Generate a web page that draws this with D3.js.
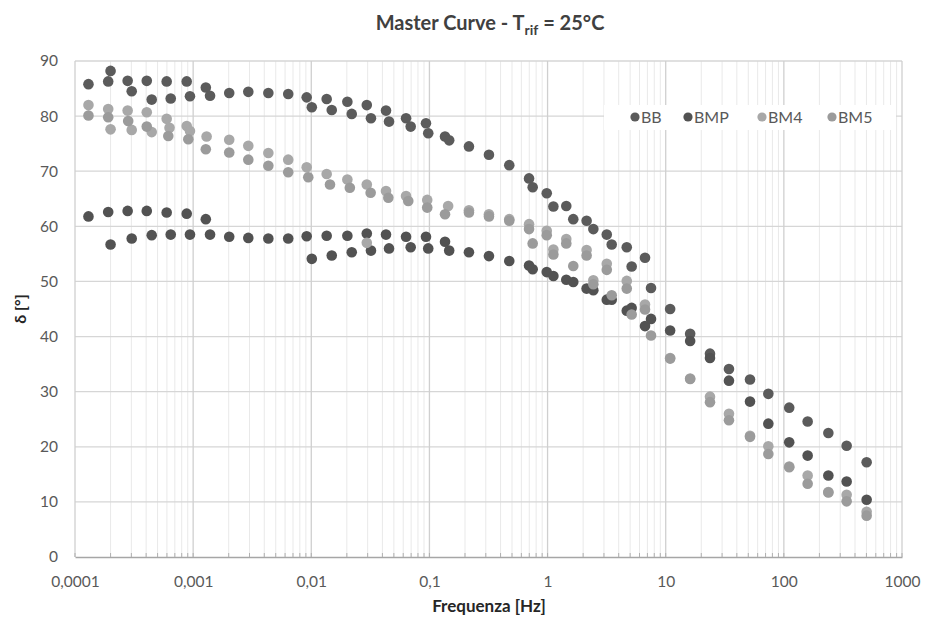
<!DOCTYPE html>
<html>
<head>
<meta charset="utf-8">
<script src="https://cdn.jsdelivr.net/npm/d3@7"></script>
<style>
  body { margin: 0; background: #fff; }
  text { font-family: Lato, "Open Sans", sans-serif; }
</style>
</head>
<body>
<svg id="chart" width="925" height="625"></svg>
<script>
// valori: [frequenza Hz, delta °]
const seriesNames = ["BB", "BMP", "BM4", "BM5"];
const seriesColors = ["#5b5b5b", "#525252", "#a8a8a8", "#9b9b9b"];

const BB = [
  [1.30e-4,85.8],[1.91e-4,86.3],[2.79e-4,86.4],[4.05e-4,86.4],[5.97e-4,86.3],[8.82e-4,86.3],[1.28e-3,85.2],
  [2.00e-4,88.2],[3.02e-4,84.5],[4.46e-4,83.0],[6.46e-4,83.2],[9.40e-4,83.6],[1.39e-3,83.7],[2.02e-3,84.2],
  [2.93e-3,84.4],[4.33e-3,84.2],[6.38e-3,84.0],[9.14e-3,83.4],[1.35e-2,83.1],[2.02e-2,82.6],[2.95e-2,82.0],
  [4.29e-2,81.0],[6.34e-2,79.6],[9.35e-2,78.7],[0.1355,76.3],
  [1.01e-2,81.6],[1.49e-2,81.1],[2.20e-2,80.4],[3.20e-2,79.6],[4.55e-2,79.0],[6.94e-2,78.1],[9.77e-2,76.9],
  [0.147,75.6],[0.216,74.5],[0.319,73.0],[0.474,71.1],[0.697,68.7],[0.748,67.1],[0.984,66.0],[1.12,63.6],
  [1.44,63.7],[1.65,61.3],[2.14,61.0],[2.44,59.5],[3.17,58.5],[3.49,56.7],[4.68,56.2],[5.15,52.7],[6.68,54.3],
  [7.51,48.8],[10.9,45.0],[16.1,40.5],[23.7,36.9],[34.3,34.1],[51.7,32.2],[73.9,29.6],[111,27.1],[159,24.6],
  [238,22.5],[340,20.2],[502,17.2]
];
const BMP = [
  [1.30e-4,61.8],[1.91e-4,62.6],[2.79e-4,62.8],[4.05e-4,62.8],[5.97e-4,62.5],[8.82e-4,62.3],[1.28e-3,61.3],
  [2.00e-4,56.7],[3.02e-4,57.8],[4.46e-4,58.4],[6.46e-4,58.5],[9.40e-4,58.5],[1.39e-3,58.5],[2.02e-3,58.1],
  [2.93e-3,57.9],[4.33e-3,57.8],[6.38e-3,57.8],[9.14e-3,58.2],[1.35e-2,58.3],[2.02e-2,58.3],[2.95e-2,58.7],
  [4.29e-2,58.5],[6.34e-2,58.1],[9.35e-2,58.1],[0.1355,57.2],
  [1.01e-2,54.1],[1.49e-2,54.7],[2.20e-2,55.3],[3.20e-2,55.6],[4.55e-2,56.0],[6.94e-2,56.2],[9.77e-2,56.0],
  [0.147,55.6],[0.216,55.3],[0.319,54.6],[0.474,53.7],[0.697,52.9],[0.748,52.2],[0.984,51.7],[1.12,51.0],
  [1.44,50.3],[1.65,49.9],[2.14,48.7],[2.44,48.4],[3.17,46.7],[3.49,46.7],[4.68,44.7],[5.15,45.2],[6.68,41.9],
  [7.51,43.2],[10.9,41.1],[16.1,39.2],[23.7,36.1],[34.3,32.0],[51.7,28.2],[73.9,24.2],[111,20.8],[159,18.4],
  [238,14.8],[340,13.7],[502,10.4]
];
const BM4 = [
  [1.30e-4,82.0],[1.91e-4,81.3],[2.79e-4,81.0],[4.05e-4,80.7],[5.97e-4,79.5],[8.82e-4,78.2],[1.30e-3,76.3],
  [2.00e-4,77.6],[3.02e-4,77.5],[4.46e-4,77.1],[6.31e-4,77.9],[9.40e-4,77.3],
  [2.02e-3,75.7],[2.93e-3,74.6],[4.33e-3,73.3],[6.38e-3,72.1],[9.14e-3,70.7],[1.35e-2,69.5],[2.02e-2,68.5],
  [2.95e-2,67.6],[2.95e-2,57.0],[4.29e-2,66.4],[6.34e-2,65.5],[9.58e-2,64.8],[0.144,63.7],[0.216,62.9],
  [0.319,62.2],[0.474,61.3],[0.697,60.4],[0.984,59.2],[1.12,55.8],[1.44,57.7],[2.14,55.7],[2.44,50.2],
  [3.17,53.2],[4.68,50.1],[6.68,45.8],[10.9,36.1],[16.1,32.4],[23.7,29.1],[34.3,26.0],[51.7,22.0],[73.9,20.1],
  [111,16.4],[159,14.8],[238,11.8],[340,11.3],[502,8.2]
];
const BM5 = [
  [1.30e-4,80.1],[1.91e-4,79.8],[2.82e-4,79.1],[4.05e-4,78.1],[6.16e-4,76.4],[9.10e-4,75.8],[1.28e-3,74.0],
  [2.02e-3,73.4],[2.93e-3,72.1],[4.33e-3,71.0],[6.38e-3,69.8],[9.43e-3,68.9],[1.44e-2,67.6],[2.12e-2,67.0],
  [3.18e-2,66.1],[4.49e-2,65.2],[6.62e-2,64.6],[9.58e-2,63.4],[0.1355,62.2],[0.216,62.5],[0.319,61.8],
  [0.474,61.0],[0.697,59.5],[0.748,56.9],[0.984,58.4],[1.12,54.9],[1.44,56.9],[1.65,52.8],[2.14,54.7],
  [2.44,49.5],[3.17,52.1],[3.49,47.5],[4.68,48.7],[5.15,44.0],[6.68,44.9],[7.51,40.2],[10.9,36.0],[16.1,32.3],
  [23.7,28.1],[34.3,24.8],[51.7,21.8],[73.9,18.7],[111,16.3],[159,13.3],[238,11.7],[340,10.1],[502,7.5]
];
const allSeries = [BB, BMP, BM4, BM5];

const xTicks = [1e-4, 1e-3, 1e-2, 1e-1, 1, 10, 100, 1000];
const xTickLabels = ["0,0001", "0,001", "0,01", "0,1", "1", "10", "100", "1000"];
const yTicks = [0, 10, 20, 30, 40, 50, 60, 70, 80, 90];

const svg = d3.select("#chart");
const plotL = 75, plotR = 902, plotT = 61, plotB = 557;

const x = d3.scaleLog().domain([1e-4, 1000]).range([plotL, plotR]);
const y = d3.scaleLinear().domain([0, 90]).range([plotB, plotT]);

// griglia minore (2..9 di ogni decade)
const minor = [];
for (let e = -4; e < 3; e++) {
  for (let m = 2; m < 10; m++) minor.push(m * Math.pow(10, e));
}
svg.append("g").selectAll("line").data(minor).join("line")
  .attr("x1", d => x(d)).attr("x2", d => x(d))
  .attr("y1", plotT).attr("y2", plotB)
  .attr("stroke", "#e9e9e9").attr("stroke-width", 1);

// griglia orizzontale
svg.append("g").selectAll("line").data(yTicks.slice(1)).join("line")
  .attr("x1", plotL).attr("x2", plotR)
  .attr("y1", d => y(d)).attr("y2", d => y(d))
  .attr("stroke", "#d6d6d6").attr("stroke-width", 1.3);

// griglia maggiore verticale
svg.append("g").selectAll("line").data(xTicks).join("line")
  .attr("x1", d => x(d)).attr("x2", d => x(d))
  .attr("y1", plotT).attr("y2", plotB)
  .attr("stroke", "#cfcfcf").attr("stroke-width", 1.3);

// asse x con tacche minori
const xAxis = d3.axisBottom(x).tickValues(xTicks).tickSize(0).tickFormat((d, i) => xTickLabels[i]).tickPadding(19);
const gx = svg.append("g").attr("transform", `translate(0,${plotB})`).call(xAxis);
gx.select(".domain").attr("stroke", "#a6a6a6").attr("stroke-width", 1.3);
gx.selectAll("text").attr("fill", "#595959").style("font-size", "15.5px");
svg.append("g").selectAll("line").data(minor.concat(xTicks)).join("line")
  .attr("x1", d => x(d)).attr("x2", d => x(d))
  .attr("y1", plotB - 4).attr("y2", plotB)
  .attr("stroke", "#b0b0b0").attr("stroke-width", 1);

const yAxis = d3.axisLeft(y).tickValues(yTicks).tickSize(0).tickPadding(17);
const gy = svg.append("g").attr("transform", `translate(${plotL},0)`).call(yAxis);
gy.select(".domain").remove();
gy.selectAll("text").attr("fill", "#595959").style("font-size", "15.5px");

// punti
allSeries.forEach((s, i) => {
  svg.append("g").selectAll("circle").data(s).join("circle")
    .attr("cx", d => x(d[0]))
    .attr("cy", d => y(d[1]))
    .attr("r", 5.3)
    .attr("fill", seriesColors[i]);
});

// legenda
const legendX = [635, 688, 762, 832];
svg.append("rect").attr("x", 604).attr("y", 105).attr("width", 292).attr("height", 25).attr("fill", "#fff");
const lg = svg.append("g").selectAll("g").data(seriesNames).join("g")
  .attr("transform", (d, i) => `translate(${legendX[i]},117)`);
lg.append("circle").attr("r", 4.6).attr("fill", (d, i) => seriesColors[i]);
lg.append("text").attr("x", 6).attr("dy", "0.36em")
  .attr("fill", "#595959").style("font-size", "16px").text(d => d);

// titoli
const title = svg.append("text").attr("x", 490).attr("y", 30)
  .attr("text-anchor", "middle").attr("fill", "#404040")
  .style("font-size", "20px").style("font-weight", "bold");
title.append("tspan").text("Master Curve - T");
title.append("tspan").attr("dy", 5).style("font-size", "14px").text("rif");
title.append("tspan").attr("dy", -5).text(" = 25°C");

svg.append("text").attr("x", 489).attr("y", 612)
  .attr("text-anchor", "middle").attr("fill", "#262626")
  .style("font-size", "17px").style("font-weight", "bold")
  .text("Frequenza [Hz]");

svg.append("text").attr("transform", "translate(26,309) rotate(-90)")
  .attr("text-anchor", "middle").attr("fill", "#262626")
  .style("font-size", "16px").style("font-weight", "bold")
  .text("δ [°]");
</script>
</body>
</html>
